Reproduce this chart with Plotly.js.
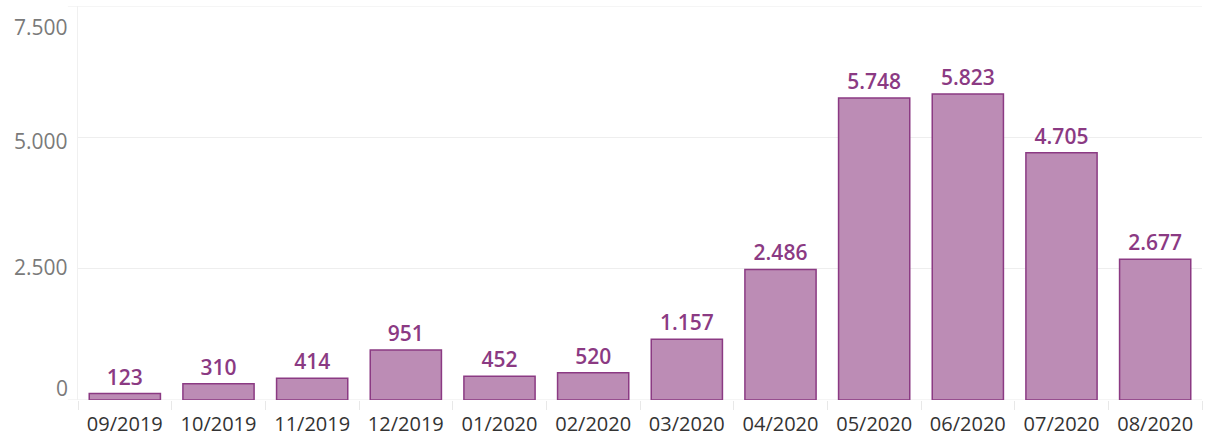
<!DOCTYPE html>
<html>
<head>
<meta charset="utf-8">
<script src="https://cdn.plot.ly/plotly-3.0.1.min.js"></script>
<style>html,body{margin:0;padding:0;background:#fff;}#chart{width:1206px;height:439px;}</style>
</head>
<body>
<div id="chart"></div>
<script>
const months = ["09/2019","10/2019","11/2019","12/2019","01/2020","02/2020","03/2020","04/2020","05/2020","06/2020","07/2020","08/2020"];
const counts = [123, 310, 414, 951, 452, 520, 1157, 2486, 5748, 5823, 4705, 2677];
const yTicks = [0, 2500, 5000, 7500];
const yTickLabels = ["0", "2.500", "5.000", "7.500"];

const font = "Open Sans, Noto Sans, sans-serif";
const trace = {
  type: "bar",
  x: months,
  y: counts,
  text: counts.map(v => v.toLocaleString("de-DE")),
  textposition: "outside",
  cliponaxis: false,
  textfont: {family: font, size: 21, color: "#8b3a83", weight: 600},
  marker: {color: "#bc8cb5", line: {color: "#8b3a83", width: 1.5}},
  hoverinfo: "x+y"
};
// Tableau-style tick label placement: end labels nudged inward
const labelShift = [12, 2, -4, -21];
const annotations = yTicks.map((v, i) => ({
  xref: "paper", yref: "y", x: 0, y: v,
  xanchor: "right", yanchor: "middle",
  xshift: -8, yshift: labelShift[i],
  text: yTickLabels[i], showarrow: false,
  font: {family: font, size: 21, color: "#7a7a7a"}
}));
const shapes = [yTicks[0], yTicks[yTicks.length - 1]].map(v => ({
  type: "line", xref: "paper", yref: "y", x0: -0.009, x1: 1, y0: v, y1: v,
  line: {color: "#ebebeb", width: 1}, layer: "below"
}));
const layout = {
  width: 1206, height: 439,
  margin: {l: 78, r: 4, t: 6, b: 39},
  paper_bgcolor: "#fff", plot_bgcolor: "#fff",
  separators: ",.",
  bargap: 0.24,
  showlegend: false,
  font: {family: font},
  annotations: annotations,
  shapes: shapes,
  xaxis: {
    type: "category",
    automargin: false,
    tickson: "boundaries",
    ticks: "outside", ticklen: 9, tickcolor: "#e8e8e8", tickwidth: 1,
    ticklabelstandoff: 10,
    showgrid: false, showline: false, zeroline: false,
    tickfont: {family: font, size: 20, color: "#333"}
  },
  yaxis: {
    range: [0, 7500],
    tickvals: yTicks,
    showticklabels: false,
    showgrid: true, gridcolor: "#eeeeee", gridwidth: 1,
    zeroline: false,
    showline: true, linecolor: "#f0f0f0", linewidth: 1,
    ticks: ""
  }
};
Plotly.newPlot("chart", [trace], layout, {displayModeBar: false, staticPlot: true});
</script>
</body>
</html>
